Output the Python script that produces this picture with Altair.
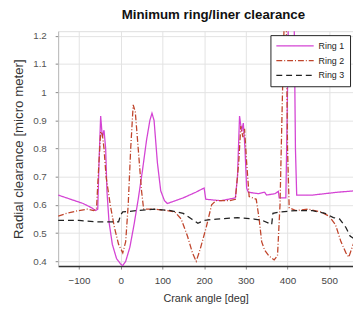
import altair as alt
import pandas as pd

ring1_x = [-150, -120, -90, -70, -60, -55, -52, -48, -44, -40, -36, -33, -28, -20, -10, 0, 5, 12, 22, 32, 42, 52, 62, 70, 75, 80, 88, 96, 105, 112, 150, 180, 200, 204, 240, 275, 280, 285, 290, 294, 298, 302, 306, 330, 345, 350, 370, 378, 380, 396, 399, 402, 416, 419, 422, 460, 520, 560]
ring1_y = [0.635, 0.62, 0.605, 0.59, 0.58, 0.585, 0.75, 0.915, 0.84, 0.865, 0.80, 0.65, 0.54, 0.46, 0.41, 0.39, 0.385, 0.40, 0.45, 0.53, 0.62, 0.72, 0.83, 0.90, 0.925, 0.90, 0.75, 0.65, 0.615, 0.605, 0.625, 0.645, 0.66, 0.62, 0.615, 0.625, 0.70, 0.915, 0.86, 0.89, 0.80, 0.66, 0.645, 0.64, 0.645, 0.635, 0.64, 0.648, 0.625, 0.625, 0.90, 1.25, 1.25, 0.80, 0.635, 0.635, 0.645, 0.65]

ring2_x = [-150, -130, -100, -80, -65, -58, -54, -48, -44, -40, -35, -25, -15, -5, 5, 12, 18, 24, 30, 35, 42, 50, 55, 80, 110, 130, 145, 160, 172, 181, 190, 205, 218, 228, 260, 275, 283, 288, 293, 297, 302, 308, 325, 332, 338, 345, 355, 368, 376, 382, 388, 392, 397, 400, 404, 420, 450, 480, 500, 515, 528, 540, 547, 555, 560]
ring2_y = [0.56, 0.57, 0.58, 0.585, 0.58, 0.585, 0.70, 0.86, 0.85, 0.80, 0.70, 0.60, 0.52, 0.46, 0.43, 0.47, 0.60, 0.80, 0.955, 0.93, 0.80, 0.65, 0.585, 0.585, 0.58, 0.575, 0.55, 0.49, 0.43, 0.40, 0.44, 0.52, 0.60, 0.615, 0.615, 0.62, 0.75, 0.88, 0.84, 0.87, 0.75, 0.63, 0.62, 0.55, 0.47, 0.44, 0.42, 0.405, 0.42, 0.60, 1.00, 1.25, 1.25, 0.80, 0.59, 0.58, 0.585, 0.575, 0.56, 0.53, 0.47, 0.43, 0.415, 0.45, 0.47]

ring3_x = [-150, -100, -60, -40, -20, -5, 0, 5, 40, 80, 120, 150, 170, 185, 200, 230, 280, 320, 340, 355, 362, 365, 380, 420, 460, 490, 510, 525, 540, 550, 560]
ring3_y = [0.545, 0.545, 0.54, 0.54, 0.54, 0.54, 0.565, 0.575, 0.58, 0.585, 0.58, 0.57, 0.55, 0.535, 0.545, 0.55, 0.555, 0.55, 0.545, 0.535, 0.53, 0.57, 0.575, 0.58, 0.58, 0.57, 0.555, 0.55, 0.52, 0.49, 0.48]

series = ["Ring 1", "Ring 2", "Ring 3"]
colors = ["#d444d4", "#c0452c", "#222222"]
dashes = [[1, 0], [6, 2, 1, 2], [6, 4]]

rows = []
for name, xs, ys in [("Ring 1", ring1_x, ring1_y), ("Ring 2", ring2_x, ring2_y), ("Ring 3", ring3_x, ring3_y)]:
    for i, (a, b) in enumerate(zip(xs, ys)):
        rows.append({"angle": a, "clearance": b, "ring": name, "order": i})
df = pd.DataFrame(rows)

FONT = "Liberation Sans"

chart = alt.Chart(df).mark_line(strokeWidth=1.3, clip=True).encode(
    x=alt.X("angle:Q", scale=alt.Scale(domain=[-150, 557], nice=False, zero=False),
            axis=alt.Axis(title="Crank angle [deg]", values=[-100, 0, 100, 200, 300, 400, 500],
                          grid=True, gridColor="#e2e2e2", domainColor="#333333", domainWidth=1.5,
                          tickColor="#888888", tickSize=3, labelPadding=7, labelFontSize=10,
                          labelColor="#444444", titleFontSize=11, titleFontWeight="normal",
                          titleColor="#333333", titlePadding=7)),
    y=alt.Y("clearance:Q", scale=alt.Scale(domain=[0.383, 1.216], nice=False, zero=False),
            axis=alt.Axis(title="Radial clearance [micro meter]", values=[0.4, 0.5, 0.6, 0.7, 0.8, 0.9, 1.0, 1.1, 1.2],
                          format=".1~f", grid=True, gridColor="#e2e2e2", domainColor="#bbbbbb",
                          tickColor="#888888", tickSize=3, labelPadding=9, labelFontSize=10,
                          labelColor="#555555", titleFontSize=13.5, titleFontWeight="normal",
                          titleColor="#333333", titlePadding=7)),
    color=alt.Color("ring:N", scale=alt.Scale(domain=series, range=colors),
                    legend=alt.Legend(title=None, orient="none", legendX=216, legendY=4,
                                      fillColor="white", strokeColor="#222222", padding=5,
                                      symbolType="stroke", symbolSize=1444, symbolStrokeWidth=1.3,
                                      labelFontSize=9, labelColor="#222222", rowPadding=3,
                                      clipHeight=12, labelOffset=4)),
    strokeDash=alt.StrokeDash("ring:N", scale=alt.Scale(domain=series, range=dashes), legend=None),
    order="order:Q",
).properties(
    width=300, height=239,
    title=alt.TitleParams("Minimum ring/liner clearance", fontSize=13.5, fontWeight="bold",
                          color="#111111", offset=9, dx=8),
    autosize=alt.AutoSizeParams(type="none"),
    padding={"left": 51, "top": 21, "right": 0, "bottom": 40},
).configure_view(stroke="#bbbbbb").configure(font=FONT)

chart.save("out.html", embed_options={"renderer": "svg", "actions": False})
